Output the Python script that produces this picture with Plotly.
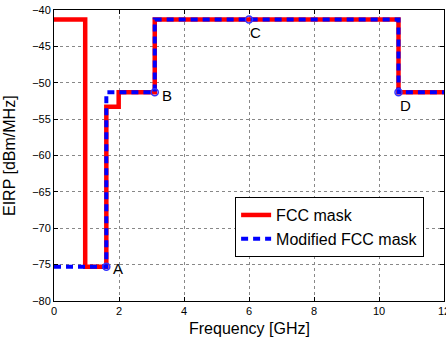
import plotly.graph_objects as go

# FCC indoor UWB mask (step function, value holds until next breakpoint)
fcc_freq = [0, 0.96, 1.61, 1.99, 3.1, 10.6, 12]
fcc_eirp = [-41.3, -75.3, -53.3, -51.3, -41.3, -51.3, -51.3]

# Modified FCC mask
mod_freq = [0, 1.61, 3.1, 10.6, 12]
mod_eirp = [-75.3, -51.3, -41.3, -51.3, -51.3]

# Labelled points
pt_labels = ["A", "B", "C", "D"]
pt_freq = [1.61, 3.1, 6.0, 10.6]
pt_eirp = [-75.3, -51.3, -41.3, -51.3]
pt_xshift = [5, 5, -1, -1]
pt_yshift = [-2, -3, -13, -13]

x_ticks = [0, 2, 4, 6, 8, 10, 12]
y_ticks = [-80, -75, -70, -65, -60, -55, -50, -45, -40]

FONT = "Liberation Sans, Arial, Helvetica, sans-serif"

fig = go.Figure()
fig.add_trace(go.Scatter(
    x=fcc_freq, y=fcc_eirp, mode="lines", line_shape="hv",
    name="FCC mask", line=dict(color="#ff0000", width=4.5)))
fig.add_trace(go.Scatter(
    x=mod_freq, y=mod_eirp, mode="lines", line_shape="hv",
    name="Modified FCC mask", line=dict(color="#0000ff", width=4, dash="7px,5px")))
fig.add_trace(go.Scatter(
    x=pt_freq, y=pt_eirp, mode="markers", showlegend=False,
    marker=dict(symbol="circle-open", size=7, color="#3333ff", line=dict(width=1.5))))

for lab, fx, fy, xs, ys in zip(pt_labels, pt_freq, pt_eirp, pt_xshift, pt_yshift):
    fig.add_annotation(x=fx, y=fy, text=lab, showarrow=False, xanchor="left",
                       yanchor="middle", xshift=xs, yshift=ys,
                       font=dict(family=FONT, size=15, color="black"))

# Axis titles placed in the margins
fig.add_annotation(text="Frequency [GHz]", xref="paper", yref="paper", x=0.5, y=0,
                   xanchor="center", yanchor="top", yshift=-17, showarrow=False,
                   font=dict(family=FONT, size=16, color="black"))
fig.add_annotation(text="EIRP [dBm/MHz]", xref="paper", yref="paper", x=0, y=0.5,
                   xanchor="right", yanchor="middle", xshift=-34, textangle=-90,
                   showarrow=False, font=dict(family=FONT, size=16, color="black"))

axis_common = dict(
    showline=True, linecolor="black", linewidth=1, mirror="ticks",
    ticks="inside", ticklen=4, tickcolor="black", tickwidth=1,
    showgrid=True, gridcolor="#888888", griddash="dot", gridwidth=1,
    zeroline=False, automargin=False, ticklabeloverflow="allow",
    tickfont=dict(family=FONT, size=11, color="black"),
)

fig.update_xaxes(range=[0, 12], tickvals=x_ticks, ticktext=[str(v) for v in x_ticks],
                 **axis_common)
fig.update_yaxes(range=[-80, -40], tickvals=y_ticks, **axis_common)

fig.update_layout(
    width=446, height=337,
    margin=dict(l=54, r=2, t=10, b=36, autoexpand=False),
    paper_bgcolor="white", plot_bgcolor="white",
    font=dict(family=FONT, color="black"),
    legend=dict(x=0.949, y=0.151, xanchor="right", yanchor="bottom",
                bgcolor="white", bordercolor="black", borderwidth=1,
                font=dict(family=FONT, size=16, color="black"),
                itemwidth=30, tracegroupgap=0),
)

fig.write_html("out.html", config={"displayModeBar": False},
               post_script="document.body.style.margin='0';document.body.style.padding='0';")
